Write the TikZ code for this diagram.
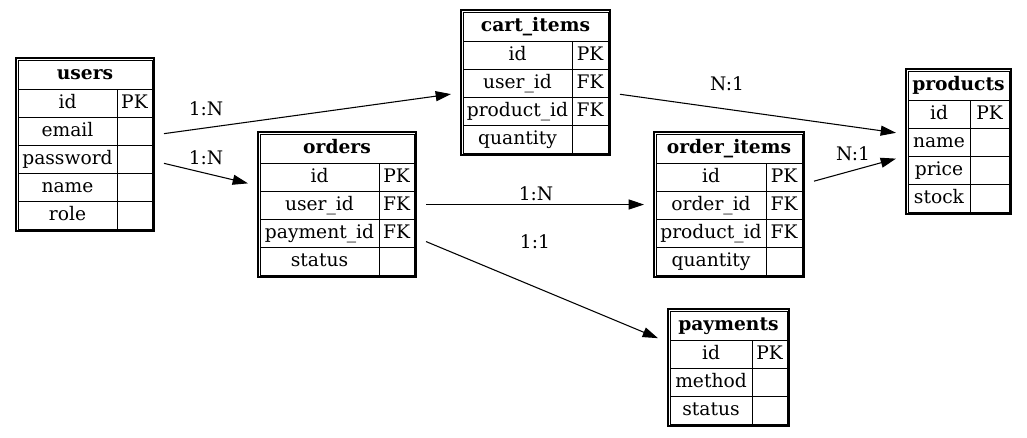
\documentclass[tikz,border=0pt]{standalone}
\usepackage{fontspec}
\setmainfont{DejaVu Serif}
\usetikzlibrary{arrows.meta}

\tikzset{
  tblframe/.style={draw, line width=1.1pt, inner sep=0pt, outer sep=7.5pt},
  cell/.style={line width=0.7pt},
  fld/.style={inner sep=0pt, font=\fontsize{14}{16}\selectfont, text height=11pt, text depth=3pt},
  tblhead/.style={fld, font=\fontsize{14}{16}\selectfont\bfseries},
  lbl/.style={fld},
  rel/.style={line width=0.8pt, -{Triangle[length=11.5pt,width=7.5pt]}}
}

% name, left, top, right, key column, rows, title, fields
\newcommand{\erdtab}[8]{
  \pgfmathsetmacro{\tbot}{#3+33+28*#6}
  \node[tblframe, minimum width={(#4-#2)*0.75pt}, minimum height={(\tbot-#3)*0.75pt}]
    (#1) at ({(#2+#4)/2},{(#3+\tbot)/2}) {};
  \draw[cell] (#2+2,#3+2) rectangle (#4-2,\tbot-2);
  \node[tblhead] (#1-title) at ({(#2+#4)/2},#3+16) {#7};
  \foreach \f/\k [count=\i] in {#8} {
    \pgfmathsetmacro{\ry}{#3+31+28*(\i-1)}
    \draw[cell] (#2+2,\ry) -- (#4-2,\ry);
    \draw[cell] (#5,\ry) -- (#5,\ry+28);
    \node[fld] (#1-f\i) at ({(#2+2+#5)/2},\ry+14) {\f};
    \node[fld] (#1-k\i) at ({(#5+#4-2)/2},\ry+14) {\k};
  }
}

\begin{document}
\begin{tikzpicture}[x=0.75pt, y=-0.75pt]
\useasboundingbox (0,0) rectangle (1027,437);

\erdtab{users}{16}{58}{154}{117}{5}{users}{id/PK, email/{}, password/{}, name/{}, role/{}}
\erdtab{orders}{258}{132}{416}{379}{4}{orders}{id/PK, user\_id/FK, payment\_id/FK, status/{}}
\erdtab{cartitems}{461}{10}{610}{572}{4}{cart\_items}{id/PK, user\_id/FK, product\_id/FK, quantity/{}}
\erdtab{orderitems}{654}{132}{804}{766}{4}{order\_items}{id/PK, order\_id/FK, product\_id/FK, quantity/{}}
\erdtab{products}{906}{69}{1011}{970}{4}{products}{id/PK, name/{}, price/{}, stock/{}}
\erdtab{payments}{668}{309}{789}{752}{3}{payments}{id/PK, method/{}, status/{}}

\draw[rel] (users) -- (cartitems);
\draw[rel] (users) -- (orders);
\draw[rel] (cartitems) -- (products);
\draw[rel] (orders) -- (orderitems);
\draw[rel] (orders) -- (payments);
\draw[rel] (orderitems) -- (products);

\node[lbl] (uc) at (206,110.5) {1:N};
\node[lbl] (uo) at (206,159.5) {1:N};
\node[lbl] (cp) at (727,85.5) {N:1};
\node[lbl] (oo) at (536,195) {1:N};
\node[lbl] (op) at (535,243) {1:1};
\node[lbl] (ip) at (853,155) {N:1};
\end{tikzpicture}
\end{document}
